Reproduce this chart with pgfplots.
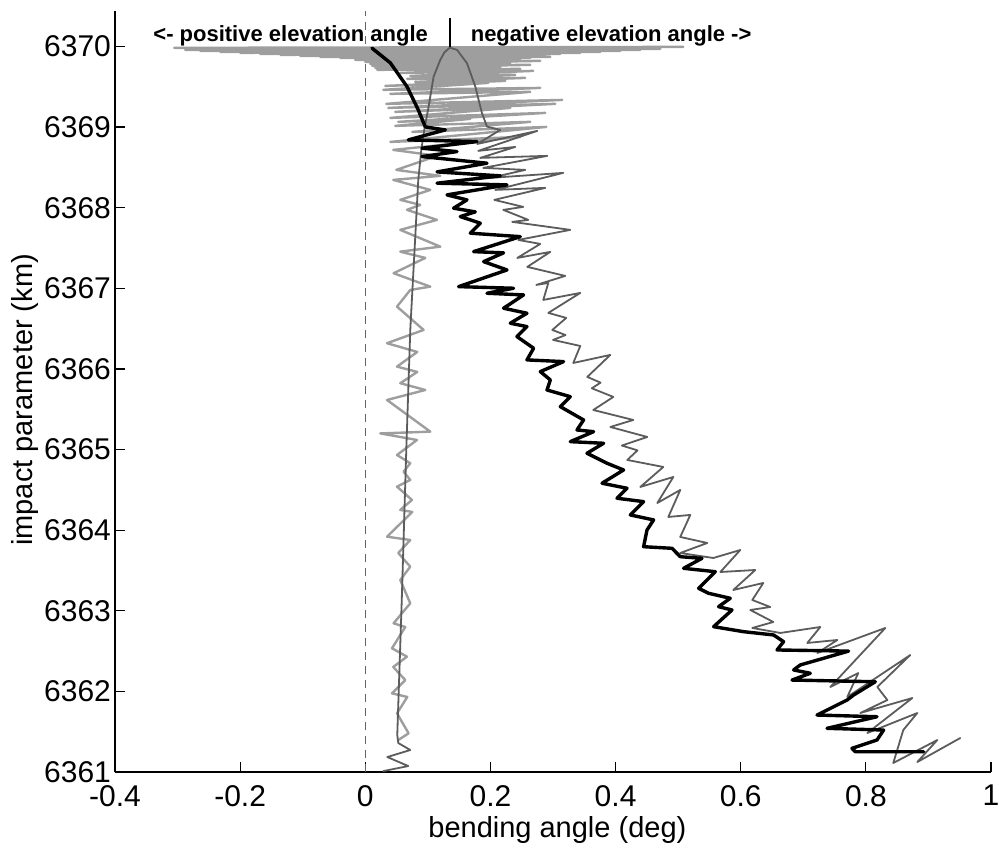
\documentclass[border=0pt]{standalone}
\usepackage{fontspec}
\setmainfont{Liberation Sans}
\usepackage{pgfplots}
\pgfplotsset{compat=1.18}
\usetikzlibrary{calc}
\definecolor{lightg}{RGB}{158,158,158}
\definecolor{midg}{RGB}{92,92,92}
\definecolor{dashg}{RGB}{100,100,100}
\begin{document}
\begin{tikzpicture}
\begin{axis}[name=ax,
  width=438pt, height=380.5pt, scale only axis,
  xmin=-0.4, xmax=1, ymin=6361, ymax=6370.44,
  axis x line*=bottom, axis y line*=left,
  axis line style={-, line width=0.6pt},
  tick align=inside, major tick length=5pt,
  every tick/.style={black, line width=0.6pt},
  xtick={-0.4,-0.2,0,0.2,0.4,0.6,0.8,1},
  xticklabels={-0.4,-0.2,0,0.2,0.4,0.6,0.8,1},
  ytick={6361,6362,6363,6364,6365,6366,6367,6368,6369,6370},
  yticklabels={6361,6362,6363,6364,6365,6366,6367,6368,6369,6370},
  tick label style={font=\fontsize{15}{17}\selectfont},
  xticklabel style={yshift=-3pt},
  yticklabel style={xshift=1.5pt},
  label style={font=\fontsize{14.5}{17}\selectfont},
  xlabel={bending angle (deg)},
  ylabel={impact parameter (km)},
  xlabel style={at={(axis description cs:0.505,-0.0762)}, anchor=center},
  ylabel style={at={(axis description cs:-0.1027,0.489)}, anchor=center},
  clip=false,
  every axis plot/.append style={line join=round, line cap=round},
]
% dashed zero line
\addplot[dashg, line width=0.7pt, dash pattern=on 4pt off 3pt, line cap=butt] coordinates {(0,6361) (0,6370.44)};
% light gray noisy series
\addplot[lightg, line width=1.2pt] coordinates {
(-0.3053,6369.983) (0.5082,6369.995) (-0.2877,6369.958) (0.4715,6369.970) (-0.2637,6369.945)
(0.4395,6369.958) (-0.2317,6369.933) (0.4075,6369.945) (-0.1998,6369.921) (0.3756,6369.933)
(-0.1678,6369.908) (0.3436,6369.921) (-0.1358,6369.896) (0.3117,6369.908) (-0.1039,6369.883)
(0.2877,6369.896) (-0.0719,6369.871) (0.2957,6369.871) (-0.0400,6369.859) (0.2637,6369.859)
(-0.0160,6369.834) (0.2477,6369.846) (0.0,6369.809) (0.2797,6369.821) (0.0080,6369.784)
(0.2317,6369.797) (0.0112,6369.759) (0.2637,6369.772) (0.0160,6369.734) (0.2158,6369.747)
(0.0192,6369.710) (0.2477,6369.722) (0.0559,6369.672) (0.2685,6369.697) (0.0719,6369.635)
(0.2397,6369.648) (0.0671,6369.598) (0.2557,6369.610) (0.0799,6369.561) (0.2238,6369.573)
(0.0320,6369.511) (0.1966,6369.548) (0.0288,6369.462) (0.2797,6369.486) (0.0400,6369.412)
(0.2637,6369.437) (0.0336,6369.288) (0.3148,6369.337) (0.0368,6369.238) (0.3037,6369.288)
(0.0479,6369.189) (0.2317,6369.238) (0.0400,6369.114) (0.2877,6369.176) (0.0527,6369.065)
(0.1678,6369.102) (0.0479,6369.015) (0.2637,6369.065) (0.0751,6368.940) (0.2893,6369.002)
(0.0400,6368.816) (0.2477,6368.878) (0.0447,6368.717)
(0.1151,6368.643) (0.0495,6368.469) (0.1199,6368.395) (0.0447,6368.345) (0.1039,6368.221)
(0.0559,6368.097) (0.0879,6368.035) (0.0666,6367.973) (0.1146,6367.849) (0.0559,6367.725)
(0.1199,6367.517) (0.0559,6367.455) (0.0959,6367.377) (0.0452,6367.187) (0.1039,6367.021)
(0.0719,6366.980) (0.0507,6366.773) (0.0932,6366.484) (0.0347,6366.319) (0.0831,6366.211)
(0.0507,6366.029) (0.0831,6365.963) (0.0559,6365.823) (0.0959,6365.739) (0.0347,6365.615)
(0.1039,6365.222) (0.0240,6365.200) (0.0826,6365.119) (0.0507,6364.933) (0.0719,6364.830)
(0.0612,6364.726) (0.0719,6364.623) (0.0507,6364.540) (0.0746,6364.375) (0.0559,6364.251)
(0.0751,6364.226) (0.0347,6363.919) (0.0719,6363.878) (0.0527,6363.717) (0.0719,6363.547)
(0.0559,6363.382) (0.0719,6363.093) (0.0452,6362.845) (0.0639,6362.799) (0.0427,6362.535)
(0.0666,6362.431) (0.0447,6362.303) (0.0639,6362.141) (0.0427,6361.976) (0.0671,6361.931)
(0.0507,6361.728) (0.0692,6361.480) (0.0527,6361.397)
};
% medium gray series
\addplot[midg, line width=0.9pt] coordinates {
(0.0288,6361.012) (0.0687,6361.074) (0.0352,6361.186) (0.0719,6361.273) (0.0527,6361.360)
(0.0511,6361.459) (0.0583,6363.134) (0.0655,6364.995) (0.0719,6366.484) (0.0847,6368.345)
(0.0895,6368.717) (0.0943,6368.965) (0.1012,6369.254) (0.1092,6369.627) (0.1199,6369.834)
(0.1263,6369.925) (0.1350,6369.985) (0.1466,6369.958) (0.1625,6369.793) (0.1758,6369.503)
(0.1865,6369.172) (0.1945,6369.006) (0.2158,6368.965)
(0.1790,6368.791) (0.2749,6368.953) (0.1806,6368.705) (0.2397,6368.754) (0.1838,6368.618)
(0.2909,6368.643) (0.1886,6368.494) (0.2557,6368.469) (0.1998,6368.370) (0.3164,6368.432)
(0.2078,6368.221) (0.2877,6368.246) (0.2062,6368.097) (0.2525,6368.010) (0.2206,6367.973)
(0.2605,6367.849) (0.2349,6367.824) (0.3276,6367.725) (0.2445,6367.600) (0.2797,6367.551)
(0.2429,6367.377) (0.2957,6367.452) (0.2589,6367.266) (0.3196,6367.154) (0.2733,6367.042)
(0.2925,6367.067) (0.2845,6366.856) (0.3436,6366.943) (0.2925,6366.695) (0.3212,6366.633)
(0.2989,6366.484) (0.3200,6366.420) (0.3000,6366.360) (0.3436,6366.285) (0.3324,6366.074)
(0.3916,6366.174) (0.3548,6365.901) (0.3760,6365.830) (0.3620,6365.760) (0.3964,6365.653)
(0.3644,6365.491) (0.4283,6365.367) (0.3916,6365.280) (0.4507,6365.156) (0.4100,6365.050)
(0.4350,6364.990) (0.4187,6364.871) (0.4763,6364.784) (0.4395,6364.536) (0.4923,6364.660)
(0.4667,6364.337) (0.5034,6364.499) (0.4843,6364.164) (0.5194,6364.189) (0.5034,6363.916)
(0.5466,6363.841) (0.5034,6363.717) (0.5562,6363.655) (0.5993,6363.754) (0.5674,6363.481)
(0.6233,6363.506) (0.5881,6363.258) (0.6361,6363.345) (0.6185,6363.134) (0.6473,6363.047)
(0.6153,6363.010) (0.6521,6362.861) (0.6185,6362.787) (0.6633,6362.725) (0.7272,6362.799)
(0.7064,6362.601) (0.7544,6362.638) (0.7224,6362.476) (0.8311,6362.787) (0.7432,6362.055)
(0.7879,6362.228) (0.7703,6361.931) (0.8710,6362.452) (0.8183,6362.055) (0.8343,6361.893)
(0.7911,6361.732) (0.8742,6361.918) (0.8023,6361.484) (0.8822,6361.732) (0.8598,6361.521)
(0.8438,6361.112) (0.9142,6361.397) (0.8822,6361.124) (0.9509,6361.422)
};
% black series
\addplot[black, line width=1.7pt] coordinates {
(0.0107,6369.979) (0.0400,6369.797) (0.0666,6369.503) (0.0847,6369.213) (0.0959,6369.002)
(0.1279,6368.965) (0.0687,6368.841) (0.1785,6368.820) (0.0906,6368.738) (0.1466,6368.696)
(0.0906,6368.634) (0.1945,6368.552) (0.1146,6368.444) (0.2158,6368.395) (0.1146,6368.304)
(0.2265,6368.283) (0.1306,6368.159) (0.1625,6368.097) (0.1411,6367.994) (0.1758,6367.948)
(0.1518,6367.890) (0.1838,6367.808) (0.1678,6367.684) (0.2477,6367.641) (0.1731,6367.455)
(0.2210,6367.440) (0.1891,6367.331) (0.2265,6367.228) (0.1491,6367.021) (0.2370,6367.001)
(0.1945,6366.939) (0.2530,6366.918) (0.2210,6366.753) (0.2584,6366.691) (0.2317,6366.567)
(0.2584,6366.525) (0.2424,6366.401) (0.2690,6366.257) (0.2584,6366.112) (0.3169,6366.091)
(0.2797,6365.967) (0.2957,6365.864) (0.2904,6365.739) (0.3276,6365.656) (0.3117,6365.532)
(0.3489,6365.367) (0.3383,6365.243) (0.3649,6365.222) (0.3276,6365.098) (0.3809,6365.078)
(0.3543,6364.954) (0.3863,6364.830) (0.4128,6364.747) (0.3783,6364.582) (0.4183,6364.520)
(0.4023,6364.396) (0.4448,6364.354) (0.4235,6364.189) (0.4608,6364.127) (0.4502,6364.002)
(0.4448,6363.795) (0.4902,6363.775) (0.5034,6363.671) (0.5381,6363.651) (0.5087,6363.527)
(0.5594,6363.485) (0.5327,6363.279) (0.5487,6363.217) (0.5833,6363.155) (0.5646,6363.051)
(0.5861,6363.010) (0.5567,6362.803) (0.6046,6362.741) (0.6526,6362.700) (0.6685,6362.617)
(0.6580,6362.514) (0.7724,6362.500) (0.6952,6362.328) (0.6845,6362.266) (0.7112,6362.225)
(0.6820,6362.141) (0.8151,6362.120) (0.7804,6361.955) (0.7699,6361.893) (0.7219,6361.707)
(0.8178,6361.686) (0.7379,6361.542) (0.8284,6361.521) (0.8178,6361.397) (0.7778,6361.294)
(0.7831,6361.252) (0.8923,6361.252)
};
% marker at top
\addplot[black, line width=0.9pt, line cap=butt] coordinates {(0.135,6369.99) (0.135,6370.35)};
\node[anchor=east, inner sep=0pt, font=\bfseries\fontsize{11}{13}\selectfont] at (axis cs:0.1007,6370.13) {<- positive elevation angle};
\node[anchor=west, inner sep=0pt, font=\bfseries\fontsize{11}{13}\selectfont] at (axis cs:0.168,6370.13) {negative elevation angle ->};
\end{axis}
\pgfresetboundingbox
\path[use as bounding box] ($(ax.south west)+(-57.5pt,-42.5pt)$) rectangle ($(ax.north east)+(4pt,5.5pt)$);
\end{tikzpicture}
\end{document}
